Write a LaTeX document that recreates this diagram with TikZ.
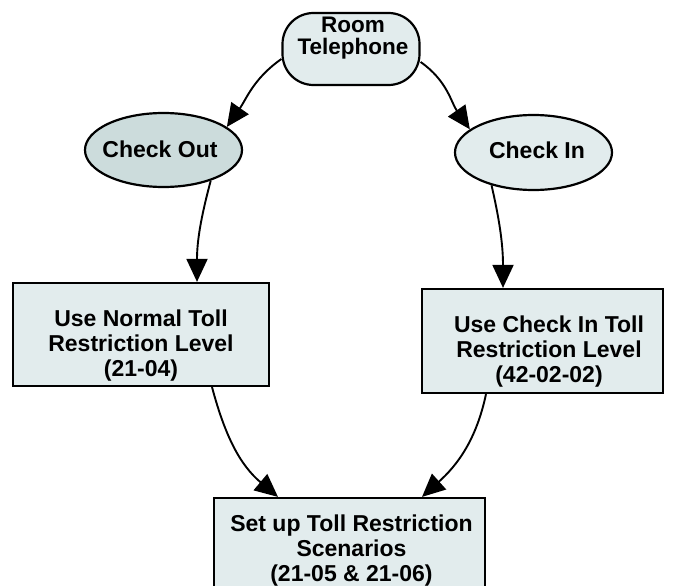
\documentclass[tikz,border=0pt]{standalone}
\usepackage{fontspec}
\setmainfont{Liberation Sans}
\usetikzlibrary{arrows.meta,shapes.geometric}
\definecolor{boxfill}{RGB}{226,236,237}
\definecolor{darkfill}{RGB}{204,220,220}
\tikzset{
  shapebox/.style={draw=black, line width=2.2pt, fill=boxfill, inner sep=0pt},
  rectbox/.style={shapebox, rectangle},
  ovalbox/.style={shapebox, ellipse},
  txt/.style={inner sep=0pt, align=center, font=\bfseries\fontsize{23}{25}\selectfont},
  conn/.style={line width=1.9pt, -{Triangle[length=23pt,width=21pt]}},
}
\begin{document}
\begin{tikzpicture}[x=1pt,y=1pt]
\useasboundingbox (0,-586) rectangle (675,0);
% shapes
\node[shapebox, rectangle, rounded corners=31pt, minimum width=137pt, minimum height=72pt] (rt) at (351,-49) {};
\node[ovalbox, fill=darkfill, minimum width=157pt, minimum height=74pt] (co) at (163.5,-150) {};
\node[ovalbox, minimum width=157pt, minimum height=75pt] (ci) at (533.5,-152.5) {};
\node[rectbox, minimum width=256pt, minimum height=103pt] (un) at (141,-334.5) {};
\node[rectbox, minimum width=241pt, minimum height=104pt] (uc) at (542.5,-341) {};
\node[rectbox, minimum width=271pt, minimum height=130pt] (sb) at (349.5,-563) {};
% texts
\node[txt, font=\bfseries\fontsize{22.5}{22}\selectfont] (rtT) at (353,-38.4) {Room\\Telephone};
\node[txt, anchor=base] (coT) at (160,-157) {Check Out};
\node[txt, anchor=base] (ciT) at (537,-158) {Check In};
\node[txt] (unT) at (141,-346) {Use Normal Toll\\Restriction Level\\(21-04)};
\node[txt] (ucT) at (549,-352) {Use Check In Toll\\Restriction Level\\(42-02-02)};
\node[txt] (sbT) at (351.5,-551) {Set up Toll Restriction\\Scenarios\\(21-05 \& 21-06)};
% connectors
\draw[conn] ([yshift=-10pt]rt.west) to[out=215, in=55] (co.20);
\draw[conn] ([yshift=-13pt]rt.east) to[out=-35, in=125] (ci.160);
\draw[conn] (co.-33) to[out=255, in=90] ([xshift=56pt]un.north);
\draw[conn] (ci.-142) to[out=283, in=90] ([xshift=-39.5pt]uc.north);
\draw[conn] ([xshift=71pt]un.south) to[out=285, in=140] ([xshift=-71.5pt]sb.north);
\draw[conn] ([xshift=-56.5pt]uc.south) to[out=258, in=42] ([xshift=72.5pt]sb.north);
\end{tikzpicture}
\end{document}
